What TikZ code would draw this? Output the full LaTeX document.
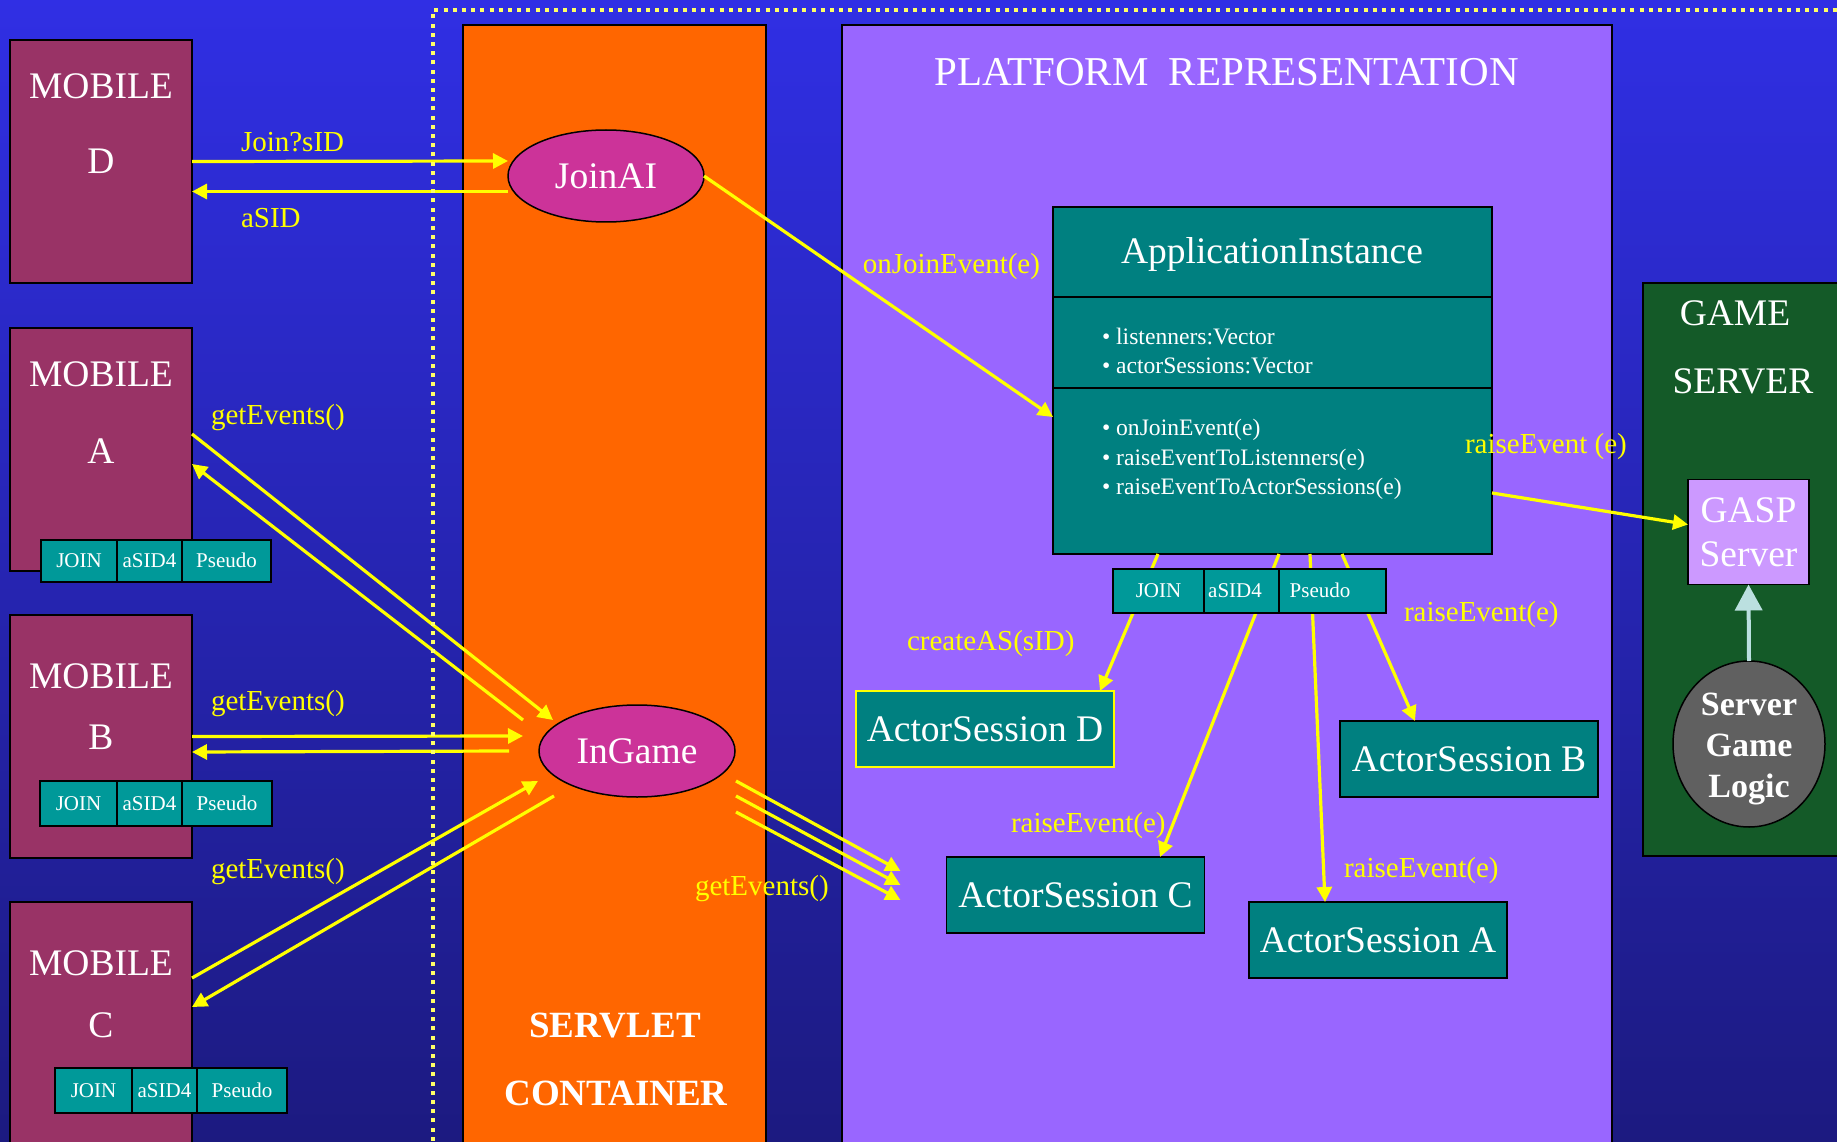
\documentclass[tikz,border=0pt]{standalone}
\usepackage{fontspec}
\setmainfont{Liberation Serif}
\usetikzlibrary{arrows.meta,shapes.geometric}

\definecolor{bgtop}{RGB}{48,47,228}
\definecolor{bgbot}{RGB}{28,26,128}
\definecolor{mobfill}{RGB}{153,51,102}
\definecolor{servorange}{RGB}{255,102,0}
\definecolor{platpurple}{RGB}{153,102,255}
\definecolor{clsteal}{RGB}{0,128,128}
\definecolor{tokteal}{RGB}{0,153,153}
\definecolor{ovalpink}{RGB}{204,51,153}
\definecolor{gamegreen}{RGB}{20,90,40}
\definecolor{gasplilac}{RGB}{204,153,255}
\definecolor{logicgray}{RGB}{96,96,96}
\definecolor{linkyellow}{RGB}{255,255,0}
\definecolor{dotyellow}{RGB}{255,255,102}
\definecolor{upcyan}{RGB}{187,224,224}

\tikzset{
  every node/.style={inner sep=0pt, outer sep=0pt},
  big/.style={font=\fontsize{37.5}{43}\selectfont, text=white},
  bigbold/.style={font=\fontsize{37}{43}\selectfont\bfseries, text=white},
  lbl/.style={font=\fontsize{29}{32}\selectfont, text=linkyellow, anchor=base west},
  member/.style={font=\fontsize{23.6}{26}\selectfont, text=white, anchor=base west},
  boxline/.style={draw=black, line width=1.5pt},
  mob/.style={boxline, line width=2pt, fill=mobfill, minimum width=182pt, minimum height=243pt, anchor=north west},
  tok/.style={boxline, fill=tokteal, font=\fontsize{21}{24}\selectfont, text=white,
              text height=15pt, text depth=2pt, anchor=west},
  oval/.style={ellipse, boxline, fill=ovalpink, minimum width=196pt, minimum height=92pt,
               font=\fontsize{37.5}{43}\selectfont, text=white},
  asbox/.style={boxline, fill=clsteal, minimum width=258pt, minimum height=76pt,
                font=\fontsize{37.5}{43}\selectfont, text=white},
  link/.style={draw=linkyellow, line width=3.2pt, -{Triangle[length=15pt,width=15pt]}},
  dotframe/.style={draw=dotyellow, line width=4pt, dash pattern=on 4pt off 5.2pt},
}

\begin{document}
\begin{tikzpicture}[x=1pt,y=-1pt]
\useasboundingbox (0,0) rectangle (1837,1142);
\clip (0,0) rectangle (1837,1142);

% background
\shade[top color=bgtop, bottom color=bgbot] (0,0) rectangle (1837,1142);

% large containers
\node[boxline, fill=servorange, minimum width=303pt, minimum height=1200pt, anchor=north west] (servlet) at (463,25) {};
\node[boxline, fill=platpurple, minimum width=770pt, minimum height=1200pt, anchor=north west] (platform) at (842,25) {};
\node[boxline, fill=gamegreen, minimum width=260pt, minimum height=573pt, anchor=north west] (gameserver) at (1643,283) {};

\node[bigbold, anchor=base] (servlett1) at (615,1037) {SERVLET};
\node[bigbold, anchor=base] (servlett2) at (616,1105) {CONTAINER};
\node[big, font=\fontsize{41}{46}\selectfont, anchor=base] (platformt) at (1226.5,86) {PLATFORM~~REPRESENTATION};
\node[big, anchor=base] (gamet1) at (1735,325) {GAME};
\node[big, anchor=base] (gamet2) at (1743,393) {SERVER};

% mobiles
\node[mob] (mobD) at (10,40) {};
\node[mob] (mobA) at (10,328) {};
\node[mob] (mobB) at (10,615) {};
\node[mob] (mobC) at (10,902) {};
\node[big, anchor=base] (mobDt1) at (101,99) {MOBILE};
\node[big, anchor=base] (mobDt2) at (101,174) {D};
\node[big, anchor=base] (mobAt1) at (101,386) {MOBILE};
\node[big, anchor=base] (mobAt2) at (101,463) {A};
\node[big, anchor=base] (mobBt1) at (101,688) {MOBILE};
\node[big, anchor=base] (mobBt2) at (101,749) {B};
\node[big, anchor=base] (mobCt1) at (101,975) {MOBILE};
\node[big, anchor=base] (mobCt2) at (101,1037) {C};

% servlet ovals
\node[oval] (joinai) at (606,176) {JoinAI};
\node[oval] (ingame) at (637,751) {InGame};

% application instance class box
\node[boxline, fill=clsteal, minimum width=439pt, minimum height=347pt, anchor=north west] (app) at (1053,207) {};
\draw[black, line width=2pt] ([yshift=-90pt]app.north west) -- ([yshift=-90pt]app.north east);
\draw[black, line width=2pt] ([yshift=-181pt]app.north west) -- ([yshift=-181pt]app.north east);
\node[big, anchor=base] (appt) at (1272,263) {ApplicationInstance};
\node[member] (appm1) at (1102,344) {\textbullet\ listenners:Vector};
\node[member] (appm2) at (1102,373) {\textbullet\ actorSessions:Vector};
\node[member] (appm3) at (1102,435) {\textbullet\ onJoinEvent(e)};
\node[member] (appm4) at (1102,465) {\textbullet\ raiseEventToListenners(e)};
\node[member] (appm5) at (1102,494) {\textbullet\ raiseEventToActorSessions(e)};

% actor sessions
\node[asbox, draw=linkyellow, line width=2pt] (asD) at (985,729) {ActorSession D};
\node[asbox] (asC) at (1075.5,895) {ActorSession C};
\node[asbox] (asA) at (1378,940) {ActorSession A};
\node[asbox] (asB) at (1469,759) {ActorSession B};

% game server parts
\node[boxline, fill=gasplilac, minimum width=121pt, minimum height=105pt, align=center,
      font=\fontsize{37.5}{44}\selectfont, text=white] (gasp) at (1748.5,532) {GASP\\Server};
\node[ellipse, boxline, fill=logicgray, minimum width=152pt, minimum height=166pt] (logic) at (1749,744) {};
\node[align=center, font=\fontsize{34}{41}\selectfont\bfseries, text=white] (logict) at (1749,749) {Server\\Game\\Logic};
\draw[draw=upcyan, line width=4pt, -{Triangle[length=26pt,width=27pt]}] (logic.north) -- (gasp.south);

% mobile D joins
\draw[link] (mobD.east) -- ([yshift=15pt]joinai.west);
\draw[link] ([yshift=-15.5pt]joinai.west) -- ([yshift=-30pt]mobD.east);

% mobiles polling InGame
\draw[link] ([yshift=15.5pt]mobA.east) -- ([xshift=-84pt,yshift=31pt]ingame.center);
\draw[link] ([xshift=-114pt,yshift=31pt]ingame.center) -- ([yshift=-14.5pt]mobA.east);
\draw[link] (mobB.east) -- ([xshift=-114pt,yshift=15pt]ingame.center);
\draw[link] ([xshift=-128pt]ingame.center) -- ([yshift=-15.5pt]mobB.east);
\draw[link] ([yshift=45.5pt]mobC.east) -- ([xshift=-99pt,yshift=-30pt]ingame.center);
\draw[link] ([xshift=-83pt,yshift=-45pt]ingame.center) -- ([yshift=16.5pt]mobC.east);

% InGame to ActorSession C
\draw[link] ([xshift=99pt,yshift=-30pt]ingame.center) -- ([xshift=-46pt,yshift=24pt]asC.west);
\draw[link] ([xshift=99pt,yshift=-45pt]ingame.center) -- ([xshift=-46pt,yshift=10pt]asC.west);
\draw[link] ([xshift=99pt,yshift=-61pt]ingame.center) -- ([xshift=-46pt,yshift=-5pt]asC.west);

% join event into the application instance
\draw[link] (joinai.east) -- ([yshift=-36.5pt]app.west);
\draw[link] ([yshift=-112.5pt]app.east) -- ([yshift=7.5pt]gasp.west);

% application instance to actor sessions
\draw[link] ([xshift=-114.5pt]app.south) -- ([xshift=115pt]asD.north);
\draw[link] ([xshift=6.5pt]app.south) -- ([xshift=84.5pt]asC.north);
\draw[link] ([xshift=37.5pt]app.south) -- ([xshift=-53pt]asA.north);
\draw[link] ([xshift=69.5pt]app.south) -- ([xshift=-54pt]asB.north);

% session token bars
\node[tok, minimum width=91pt, minimum height=44pt] (tApp1) at (1113,591) {JOIN};
\node[tok, minimum width=75pt, minimum height=44pt] (tApp2) at (tApp1.east) {aSID4\hspace*{13pt}};
\node[tok, minimum width=107pt, minimum height=44pt] (tApp3) at (tApp2.east) {Pseudo\hspace*{25pt}};

\node[tok, minimum width=76pt, minimum height=42pt] (tA1) at (41,561) {JOIN};
\node[tok, minimum width=65pt, minimum height=42pt] (tA2) at (tA1.east) {aSID4};
\node[tok, minimum width=89pt, minimum height=42pt] (tA3) at (tA2.east) {Pseudo};

\node[tok, minimum width=77pt, minimum height=45pt] (tB1) at (40,803.5) {JOIN};
\node[tok, minimum width=65pt, minimum height=45pt] (tB2) at (tB1.east) {aSID4};
\node[tok, minimum width=90pt, minimum height=45pt] (tB3) at (tB2.east) {Pseudo};

\node[tok, minimum width=77pt, minimum height=45pt] (tC1) at (55,1090.5) {JOIN};
\node[tok, minimum width=65pt, minimum height=45pt] (tC2) at (tC1.east) {aSID4};
\node[tok, minimum width=90pt, minimum height=45pt] (tC3) at (tC2.east) {Pseudo};

% dotted boundary
\draw[dotframe] (433,1150) -- (433,10.5) -- (1850,10.5);

% connector labels
\node[lbl] (lJoin) at (241,152) {Join?sID};
\node[lbl] (lAsid) at (241,228) {aSID};
\node[lbl] (lGetA) at (211,424) {getEvents()};
\node[lbl] (lGetB) at (211,710) {getEvents()};
\node[lbl] (lGetC) at (211,878) {getEvents()};
\node[lbl] (lGetS) at (695,895) {getEvents()};
\node[lbl, anchor=base east] (lOnJoin) at (1040,273) {onJoinEvent(e)};
\node[lbl] (lRaiseG) at (1465,453) {raiseEvent (e)};
\node[lbl] (lCreate) at (907,650) {createAS(sID)};
\node[lbl] (lRaiseC) at (1011,832) {raiseEvent(e)};
\node[lbl] (lRaiseA) at (1344,877) {raiseEvent(e)};
\node[lbl] (lRaiseB) at (1404,621) {raiseEvent(e)};
\end{tikzpicture}
\end{document}
